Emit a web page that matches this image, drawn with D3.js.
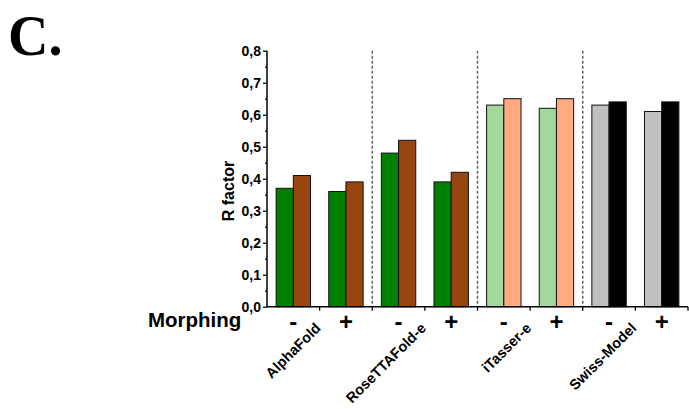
<!DOCTYPE html>
<html><head><meta charset="utf-8">
<script src="https://cdn.jsdelivr.net/npm/d3@7"></script>
<style>body{margin:0;background:#fff}svg{display:block}</style>
</head><body>
<script>
const categories = ["AlphaFold", "RoseTTAFold-e", "iTasser-e", "Swiss-Model"];
const morphing = ["-", "+"];
const seriesA = [0.37, 0.36, 0.48, 0.39, 0.63, 0.62, 0.63, 0.61];
const seriesB = [0.41, 0.39, 0.52, 0.42, 0.65, 0.65, 0.64, 0.64];
const colorsA = ["#008000", "#008000", "#a3d89c", "#c0c0c0"];
const colorsB = ["#99450f", "#99450f", "#ffaa80", "#000000"];
const yTicks = [0, 0.1, 0.2, 0.3, 0.4, 0.5, 0.6, 0.7, 0.8];

(function () {
const W = 689, H = 412;
const svg = d3.select("body").append("svg").attr("width", W).attr("height", H)
  .style("font-family", "'Liberation Sans', Arial, sans-serif");

const leftX = 267, rightX = 688, topY = 50.7, bottomY = 306.7;
const slots = [];
categories.forEach((c, i) => morphing.forEach((m, j) => slots.push({cat: c, ci: i, m, key: c + m, idx: i * 2 + j})));

const x = d3.scaleBand().domain(slots.map(d => d.key)).range([leftX, rightX]).padding(0);
const xi = d3.scaleBand().domain(["a", "b"]).range([0, x.bandwidth()]).paddingInner(0).paddingOuter(0.53);
const y = d3.scaleLinear().domain([0, 0.8]).range([bottomY, topY]);

// dashed separators
categories.slice(0, -1).forEach((c, i) => {
  const xx = x(c + "+") + x.bandwidth();
  svg.append("line").attr("x1", xx).attr("x2", xx).attr("y1", y(0.8)).attr("y2", bottomY)
    .attr("stroke", "#666").attr("stroke-width", 1.5).attr("stroke-dasharray", "3,2");
});

// bars
const g = svg.append("g");
slots.forEach(s => {
  g.append("rect").attr("x", x(s.key) + xi("a")).attr("width", xi.bandwidth())
    .attr("y", y(seriesA[s.idx])).attr("height", bottomY - y(seriesA[s.idx]))
    .attr("fill", colorsA[s.ci]).attr("stroke", "#111").attr("stroke-width", 1);
  g.append("rect").attr("x", x(s.key) + xi("b")).attr("width", xi.bandwidth())
    .attr("y", y(seriesB[s.idx])).attr("height", bottomY - y(seriesB[s.idx]))
    .attr("fill", colorsB[s.ci]).attr("stroke", "#111").attr("stroke-width", 1);
});

// y axis
const fmt = d => d3.format(".1f")(d).replace(".", ",");
const yAx = svg.append("g").attr("transform", `translate(${leftX},0)`)
  .call(d3.axisLeft(y).tickValues(yTicks).tickFormat(fmt).tickSize(4).tickPadding(2));
svg.append("g").attr("transform", `translate(${leftX},0)`)
  .call(d3.axisLeft(y).tickValues(yTicks.slice(0, -1).map(v => v + 0.05)).tickFormat("").tickSize(2))
  .select(".domain").remove();
yAx.select(".domain").attr("d", `M0,${topY}V${bottomY}`).attr("stroke-width", 1.5);
yAx.selectAll("text").style("font-size", "14px").style("font-weight", "bold").attr("fill", "#000");
svg.selectAll(".tick line").attr("stroke-width", 1.3);

// x axis
svg.append("line").attr("x1", leftX).attr("x2", rightX).attr("y1", bottomY).attr("y2", bottomY)
  .attr("stroke", "#000").attr("stroke-width", 1.5);
const bounds = slots.map(s => x(s.key)).concat([rightX]);
bounds.slice(1).forEach(b => {
  svg.append("line").attr("x1", b).attr("x2", b).attr("y1", bottomY).attr("y2", bottomY + 4)
    .attr("stroke", "#000").attr("stroke-width", 1.3);
});

// morphing labels
slots.forEach(s => {
  svg.append("text").attr("x", x(s.key) + x.bandwidth() / 2).attr("y", 330)
    .attr("text-anchor", "middle").style("font-size", "24px").style("font-weight", "bold").text(s.m);
});
svg.append("text").attr("x", 148).attr("y", 327).style("font-size", "20.5px").style("font-weight", "bold").text("Morphing");

// category labels
categories.forEach(c => {
  const cx = x(c + "+");
  svg.append("text").attr("transform", `translate(${cx + 2},329) rotate(-45)`)
    .attr("text-anchor", "end").style("font-size", "14.5px").style("font-weight", "bold").text(c);
});

// y label
svg.append("text").attr("transform", `translate(234,191) rotate(-90)`).attr("text-anchor", "middle")
  .style("font-size", "16px").style("font-weight", "bold").text("R factor");

// panel label
svg.append("text").attr("x", 8).attr("y", 55)
  .style("font-family", "'Liberation Serif', 'Times New Roman', serif")
  .style("font-size", "56px").style("font-weight", "bold").text("C.");
})();
</script>
</body></html>
